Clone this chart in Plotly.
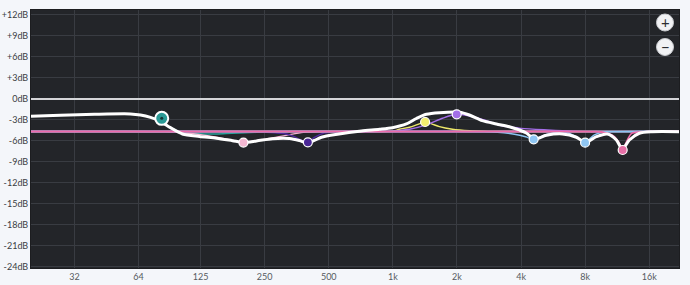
import plotly.graph_objects as go
import math

# ---- data (frequency in Hz, gain in dB) ----
tick_freqs = [32, 64, 125, 250, 500, 1000, 2000, 4000, 8000, 16000]
tick_labels = ["32", "64", "125", "250", "500", "1k", "2k", "4k", "8k", "16k"]
db_ticks = [12, 9, 6, 3, 0, -3, -6, -9, -12, -15, -18, -21, -24]
db_labels = ["+12dB", "+9dB", "+6dB", "+3dB", "0dB", "-3dB", "-6dB", "-9dB",
             "-12dB", "-15dB", "-18dB", "-21dB", "-24dB"]

total_f = [20, 27.5, 39.7, 58.6, 65.3, 72.8, 81.1, 90.3, 102.8, 123.6, 148.5, 176.5,
           198.8, 228.8, 272.1, 327, 364, 397, 428, 462, 549, 712, 865, 995, 1158,
           1290, 1437, 1654, 2053, 2287, 2632, 3062, 3523, 3926, 4234, 4618, 5258,
           6250, 7274, 8013, 9024, 10163, 11206, 11952, 12893, 14362, 16531, 22050]
total_db = [-2.47, -2.33, -2.19, -2.14, -2.29, -2.64, -3.21, -4.10, -5.0, -5.36, -5.61,
            -5.96, -6.21, -6.0, -5.67, -5.64, -5.93, -6.29, -5.93, -5.47, -5.04, -4.57,
            -4.33, -4.10, -3.57, -2.79, -2.19, -1.96, -1.90, -2.29, -3.10, -3.57, -3.96,
            -4.43, -4.86, -5.71, -5.19, -5.0, -5.47, -6.21, -5.39, -5.0, -5.86, -7.21,
            -5.86, -4.90, -4.67, -4.67]

teal_f = [20, 40, 58.6, 65.3, 72.8, 81.1, 90.3, 100, 123.6, 150, 176, 228, 300, 400, 1000, 22050]
teal_db = [-2.47, -2.19, -2.14, -2.29, -2.64, -3.2, -4.05, -4.7, -4.98, -5.0, -4.9, -4.78,
           -4.68, -4.65, -4.65, -4.65]

pink1_f = [20, 50, 85, 103, 125, 148.5, 176, 199, 229, 272, 327, 380, 450, 1000, 22050]
pink1_db = [-4.65, -4.65, -4.7, -4.82, -5.1, -5.47, -5.9, -6.23, -5.95, -5.57, -5.1, -4.78,
            -4.66, -4.65, -4.65]

indigo_f = [20, 150, 230, 280, 320, 344, 370, 399, 428, 477, 540, 700, 22050]
indigo_db = [-4.65, -4.65, -4.7, -4.85, -5.04, -5.38, -5.86, -6.19, -5.5, -4.85, -4.7,
             -4.65, -4.65]

yellow_f = [20, 600, 850, 1000, 1073, 1196, 1330, 1417, 1520, 1654, 1903, 2287, 2800, 4000, 22050]
yellow_db = [-4.65, -4.65, -4.64, -4.6, -4.33, -4.04, -3.55, -3.29, -3.55, -3.96, -4.33,
             -4.55, -4.63, -4.65, -4.65]

violet_f = [20, 700, 1000, 1196, 1437, 1708, 1994, 2363, 2748, 3268, 3449, 4000, 5316, 7000,
            9000, 22050]
violet_db = [-4.65, -4.65, -4.6, -4.33, -3.71, -2.76, -2.19, -2.52, -3.1, -3.86, -3.95,
             -4.2, -4.43, -4.6, -4.65, -4.65]

blue1_f = [20, 2000, 2600, 3100, 3720, 4200, 4583, 5000, 5316, 5965, 7000, 22050]
blue1_db = [-4.65, -4.65, -4.68, -4.75, -5.04, -5.4, -5.76, -5.35, -5.04, -4.72, -4.66, -4.65]

blue2_f = [20, 5000, 5800, 6387, 7116, 7600, 7990, 8400, 8833, 9742, 11000, 22050]
blue2_db = [-4.65, -4.65, -4.68, -4.72, -5.24, -5.8, -6.24, -5.7, -5.14, -4.72, -4.66, -4.65]

pink2_f = [20, 6000, 8500, 9527, 10961, 11600, 11994, 12400, 13177, 14500, 16000, 22050]
pink2_db = [-4.65, -4.65, -4.68, -4.72, -5.38, -6.4, -7.29, -6.4, -4.95, -4.72, -4.66, -4.65]

node_f = [198.8, 399, 1417, 1994, 4583, 7990, 11994]
node_db = [-6.23, -6.19, -3.29, -2.19, -5.76, -6.24, -7.29]
node_colors = ["#f4b8d2", "#4a2796", "#f3ef6e", "#a36fe8", "#8fc6f3", "#8fc6f3", "#e66fa6"]
sel_f = [82.2]
sel_db = [-2.77]

# ---- figure ----
fig = go.Figure()

filters = [
    (teal_f, teal_db, "#2aa39c", 1.4),
    (pink1_f, pink1_db, "#f2b4d0", 1.4),
    (indigo_f, indigo_db, "#4f2aa0", 1.4),
    (yellow_f, yellow_db, "#eee86a", 1.4),
    (violet_f, violet_db, "#a46ee8", 1.4),
    (blue1_f, blue1_db, "#8cc4f2", 1.4),
    (blue2_f, blue2_db, "#8cc4f2", 1.4),
    (pink2_f, pink2_db, "#ec6aa9", 1.8),
]
for fx, fy, col, w in filters:
    fig.add_trace(go.Scatter(x=fx, y=fy, mode="lines",
                             line=dict(color=col, width=w, shape="spline", smoothing=0.8),
                             hoverinfo="skip", showlegend=False))

fig.add_trace(go.Scatter(x=total_f, y=total_db, mode="lines",
                         line=dict(color="#ffffff", width=3, shape="spline", smoothing=0.8),
                         hoverinfo="skip", showlegend=False))

fig.add_trace(go.Scatter(x=node_f, y=node_db, mode="markers",
                         marker=dict(size=9, color=node_colors,
                                     line=dict(color="#ffffff", width=1.2)),
                         hoverinfo="skip", showlegend=False))
fig.add_trace(go.Scatter(x=sel_f, y=sel_db, mode="markers",
                         marker=dict(size=13, color="#2a9a96",
                                     line=dict(color="#ffffff", width=2)),
                         hoverinfo="skip", showlegend=False))
fig.add_trace(go.Scatter(x=sel_f, y=sel_db, mode="markers",
                         marker=dict(size=3, color="#173534"),
                         hoverinfo="skip", showlegend=False))

grid = "#393c42"
fig.update_xaxes(type="log", range=[math.log10(20), math.log10(22050)],
                 tickvals=tick_freqs, ticktext=tick_labels,
                 showgrid=True, gridcolor=grid, gridwidth=1,
                 zeroline=False, showline=True, linecolor="#1c1d20", mirror=True,
                 ticks="", tickfont=dict(family="Lato", size=9, color="#555a60"),
                 automargin=False, fixedrange=True)
fig.update_yaxes(range=[-24.15, 12.71], tickvals=db_ticks, ticktext=db_labels,
                 showgrid=True, gridcolor=grid, gridwidth=1,
                 zeroline=True, zerolinecolor="#d4d5d8", zerolinewidth=2,
                 showline=True, linecolor="#1c1d20", mirror=True,
                 ticks="", tickfont=dict(family="Lato", size=9, color="#3a3d42"),
                 automargin=False, fixedrange=True)

# zoom buttons (UI)
btn_x = (665 - 31) / 648
for yp, sym in [((268 - 22.5) / 258, "+"), ((268 - 47) / 258, "\u2212")]:
    fig.add_shape(type="circle", xref="paper", yref="paper",
                  xsizemode="pixel", ysizemode="pixel",
                  xanchor=btn_x, yanchor=yp, x0=-8.5, x1=8.5, y0=-8.5, y1=8.5,
                  fillcolor="#f1f2f4", line=dict(color="#c9cbcf", width=1))
    fig.add_annotation(x=btn_x, y=yp, xref="paper", yref="paper", text=sym,
                       showarrow=False, font=dict(family="Lato", size=15, color="#2b2d31"),
                       xanchor="center", yanchor="middle")

fig.update_layout(width=690, height=285,
                  margin=dict(l=31, r=11, t=10, b=17, pad=0, autoexpand=False),
                  paper_bgcolor="#f4f6fa", plot_bgcolor="#232529",
                  showlegend=False)

fig.write_html("out.html")
